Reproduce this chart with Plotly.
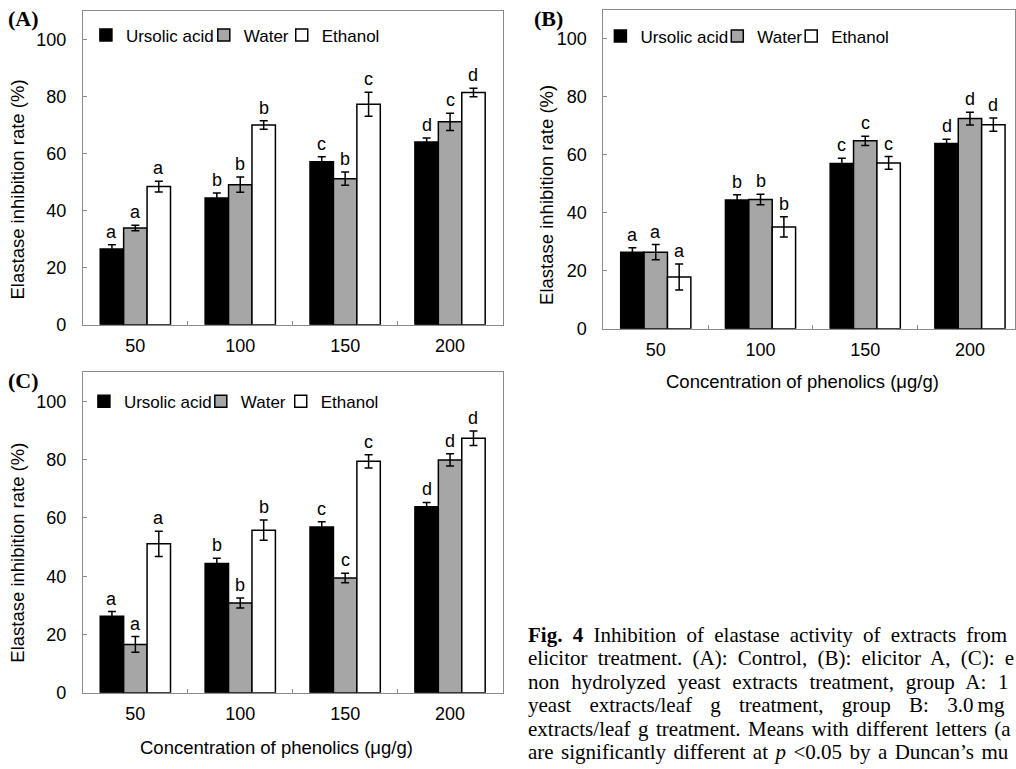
import plotly.graph_objects as go

# ---------------- data ----------------
categories = ["50", "100", "150", "200"]
series_names = ["Ursolic acid", "Water", "Ethanol"]
series_colors = ["#000000", "#a6a6a6", "#ffffff"]

# Panel A (Control)
a_ursolic = [26.5, 44.4, 57.1, 64.0]
a_ursolic_err = [1.5, 1.8, 1.8, 1.4]
a_water = [33.9, 49.1, 51.2, 71.1]
a_water_err = [1.0, 2.7, 2.3, 3.0]
a_ethanol = [48.4, 70.0, 77.3, 81.4]
a_ethanol_err = [1.9, 1.5, 4.2, 1.5]
a_letters_ursolic = ["a", "b", "c", "d"]
a_letters_water = ["a", "b", "b", "c"]
a_letters_ethanol = ["a", "b", "c", "d"]

# Panel B (elicitor A)
b_ursolic = [26.4, 44.4, 57.0, 63.9]
b_ursolic_err = [1.5, 1.8, 1.8, 1.5]
b_water = [26.4, 44.6, 64.8, 72.5]
b_water_err = [2.6, 1.8, 1.6, 2.2]
b_ethanol = [17.8, 35.1, 57.2, 70.4]
b_ethanol_err = [4.5, 3.5, 2.2, 2.3]
b_letters_ursolic = ["a", "b", "c", "d"]
b_letters_water = ["a", "b", "c", "d"]
b_letters_ethanol = ["a", "b", "c", "d"]

# Panel C (elicitor B)
c_ursolic = [26.3, 44.4, 56.9, 63.8]
c_ursolic_err = [1.6, 1.8, 1.8, 1.5]
c_water = [16.6, 30.8, 39.4, 79.9]
c_water_err = [2.7, 1.7, 1.6, 2.1]
c_ethanol = [51.1, 55.8, 79.4, 87.3]
c_ethanol_err = [4.3, 3.5, 2.3, 2.5]
c_letters_ursolic = ["a", "b", "c", "d"]
c_letters_water = ["a", "b", "c", "d"]
c_letters_ethanol = ["a", "b", "c", "d"]

panel_labels = ["(A)", "(B)", "(C)"]
y_title = "Elastase inhibition rate (%)"
x_title = "Concentration of phenolics (μg/g)"
y_ticks = [0, 20, 40, 60, 80, 100]

caption_lines = [
    "<b>Fig. 4</b> Inhibition of elastase activity of extracts from",
    "elicitor treatment. (A): Control, (B): elicitor A, (C): e",
    "non hydrolyzed yeast extracts treatment, group A: 1",
    "yeast extracts/leaf g treatment, group B: 3.0\u2009mg",
    "extracts/leaf g treatment. Means with different letters (a",
    "are significantly different at <i>p</i> &lt;0.05 by a Duncan’s mu",
]
# extra word spacing (px) per caption line to mimic the justified block
caption_word_spacing = [5.0, 5.0, 6.5, 13.0, 2.2, 2.2]

# ---------------- layout geometry ----------------
W, H = 1016, 769
SANS = "Liberation Sans, Arial, sans-serif"
SERIF = "Liberation Serif, Times New Roman, serif"
FRAME = "#8a8a8a"
BARGAP = 0.33


def px_x(p):
    return p / W


def px_y(p):
    return 1 - p / H


panels = [
    dict(vals=[a_ursolic, a_water, a_ethanol],
         errs=[a_ursolic_err, a_water_err, a_ethanol_err],
         letters=[a_letters_ursolic, a_letters_water, a_letters_ethanol],
         xdom=[px_x(83), px_x(503)], ydom=[px_y(329), px_y(11)],
         xrange=[-0.5, 3.5], legend_x=[86, 204, 282], legend_y=36),
    dict(vals=[b_ursolic, b_water, b_ethanol],
         errs=[b_ursolic_err, b_water_err, b_ethanol_err],
         letters=[b_letters_ursolic, b_letters_water, b_letters_ethanol],
         xdom=[px_x(604), 1.0], ydom=[px_y(333), px_y(10)],
         xrange=[-0.5, 3.43], legend_x=[601, 718, 792], legend_y=37),
    dict(vals=[c_ursolic, c_water, c_ethanol],
         errs=[c_ursolic_err, c_water_err, c_ethanol_err],
         letters=[c_letters_ursolic, c_letters_water, c_letters_ethanol],
         xdom=[px_x(83), px_x(503)], ydom=[px_y(702), px_y(377)],
         xrange=[-0.5, 3.5], legend_x=[84, 201, 281], legend_y=407),
]

fig = go.Figure()
annotations = []
layout_extra = {}
bar_w = (1 - BARGAP) / 3
legend_count = 0

for pi, p in enumerate(panels):
    sfx = "" if pi == 0 else str(pi + 1)
    xa, ya = "x" + sfx, "y" + sfx
    for si in range(3):
        legend_count += 1
        lname = "legend" if legend_count == 1 else "legend" + str(legend_count)
        fig.add_trace(go.Bar(
            x=categories, y=p["vals"][si], name=series_names[si],
            xaxis=xa, yaxis=ya,
            marker=dict(color=series_colors[si], line=dict(color="black", width=1.5)),
            error_y=dict(type="data", array=p["errs"][si], color="black",
                         thickness=1.5, width=4),
            legend=lname, showlegend=True, offsetgroup=str(si),
        ))
        layout_extra[lname] = dict(
            x=px_x(p["legend_x"][si]), y=px_y(p["legend_y"]),
            xanchor="left", yanchor="middle", orientation="h",
            font=dict(family=SANS, size=17, color="black"),
            bgcolor="rgba(0,0,0,0)", borderwidth=0,
            itemclick=False, itemdoubleclick=False,
        )
        # significance letters
        for ci in range(len(categories)):
            annotations.append(dict(
                x=ci + (si - 1) * bar_w, y=p["vals"][si][ci] + p["errs"][si][ci],
                xref=xa, yref=ya, text=p["letters"][si][ci], showarrow=False,
                yanchor="bottom", yshift=1,
                font=dict(family=SANS, size=18, color="black"),
            ))
    layout_extra["xaxis" + sfx] = dict(
        domain=p["xdom"], anchor=ya, type="category", range=p["xrange"],
        showline=True, linecolor=FRAME, linewidth=1, mirror=True,
        ticks="inside", ticklen=4, tickcolor=FRAME, tickson="boundaries",
        tickfont=dict(family=SANS, size=18, color="black"),
        showgrid=False, zeroline=False, fixedrange=True,
        ticklabelstandoff=5,
    )
    layout_extra["yaxis" + sfx] = dict(
        domain=p["ydom"], anchor=xa, range=[0, 110], tickvals=y_ticks,
        showline=True, linecolor=FRAME, linewidth=1, mirror=True,
        ticks="inside", ticklen=4, tickcolor=FRAME,
        tickfont=dict(family=SANS, size=18, color="black"),
        showgrid=False, zeroline=False, fixedrange=True,
        ticklabelstandoff=12,
    )

# y-axis titles
for (x, y) in [(18, 192), (547, 197), (18, 560)]:
    annotations.append(dict(x=px_x(x), y=px_y(y), xref="paper", yref="paper",
                            text=y_title, textangle=-90, showarrow=False,
                            xanchor="center", yanchor="middle",
                            font=dict(family=SANS, size=18.5, color="black")))
# x-axis titles
for (x, y) in [(803, 387), (277, 757)]:
    annotations.append(dict(x=px_x(x), y=px_y(y), xref="paper", yref="paper",
                            text=x_title, showarrow=False,
                            xanchor="center", yanchor="middle",
                            font=dict(family=SANS, size=18.5, color="black")))
# panel labels
for lab, (x, y) in zip(panel_labels, [(6, 19), (533, 19), (6, 386)]):
    annotations.append(dict(x=px_x(x), y=px_y(y), xref="paper", yref="paper",
                            text="<b>" + lab + "</b>", showarrow=False,
                            xanchor="left", yanchor="middle",
                            font=dict(family=SERIF, size=22, color="black")))
# caption
for i, (line, ws) in enumerate(zip(caption_lines, caption_word_spacing)):
    annotations.append(dict(
        x=px_x(527), y=px_y(643 + i * 23.8), xref="paper", yref="paper",
        text='<span style="word-spacing:%.1fpx">%s</span>' % (ws, line),
        showarrow=False, xanchor="left", yanchor="middle", align="left",
        font=dict(family=SERIF, size=21, color="black")))

fig.update_layout(
    width=W, height=H, margin=dict(l=0, r=0, t=0, b=0),
    paper_bgcolor="white", plot_bgcolor="white",
    barmode="group", bargap=BARGAP, bargroupgap=0,
    annotations=annotations, **layout_extra,
)

fig.write_html(
    "out.html",
    config={"displayModeBar": False},
    post_script="document.body.style.margin='0';document.body.style.overflow='hidden';",
)
